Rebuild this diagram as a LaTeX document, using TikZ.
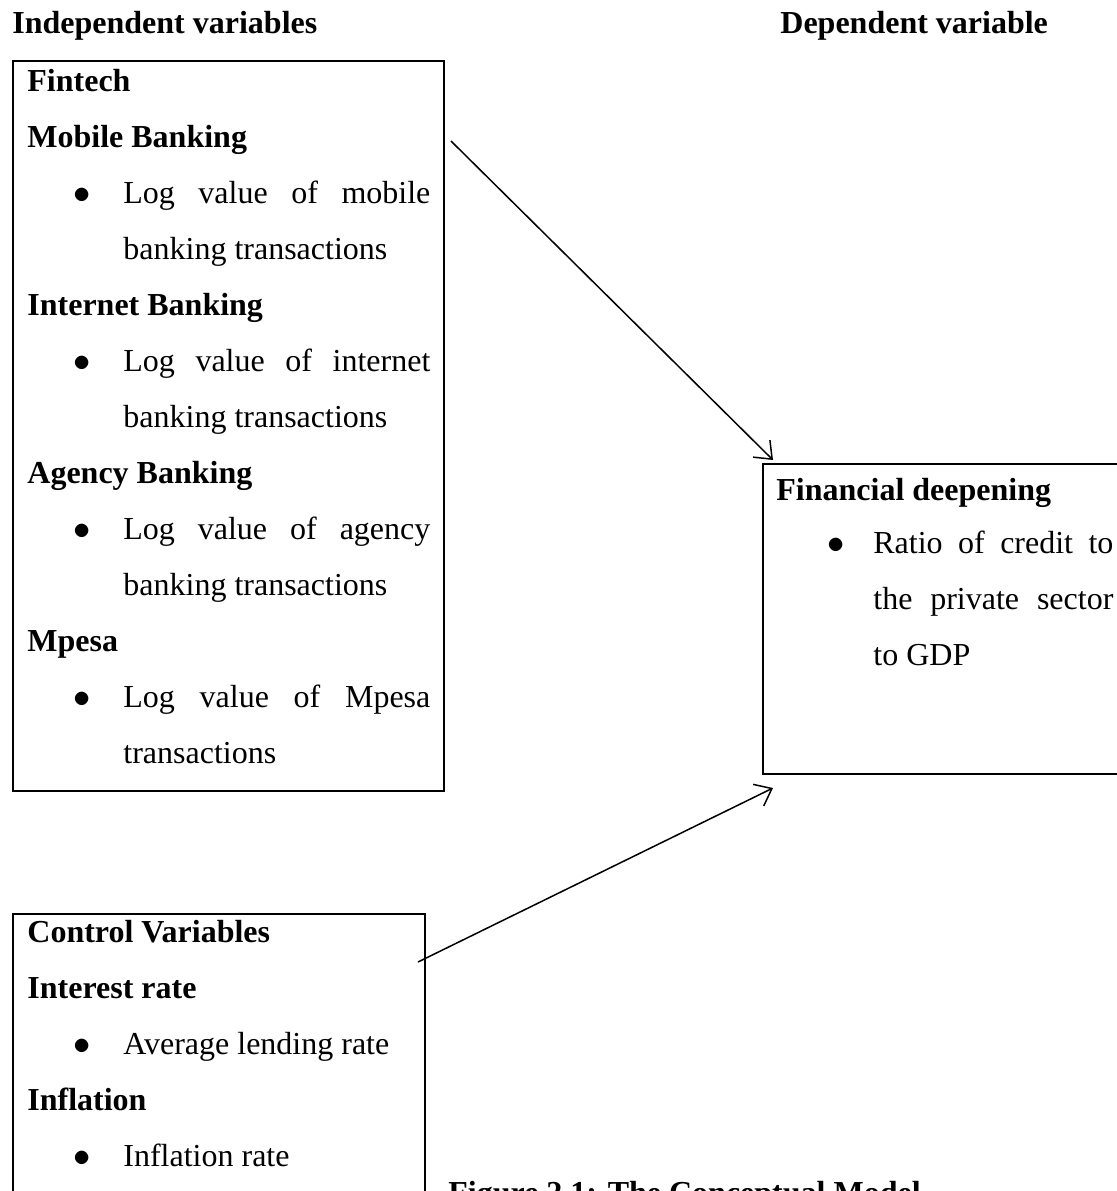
\documentclass[tikz,border=0pt]{standalone}
\usepackage{fontspec}
\setmainfont{Liberation Serif}
\usetikzlibrary{arrows.meta,calc}

\begin{document}
\begin{tikzpicture}[
x=0.5pt,
y=-0.5pt,
every node/.style={font=\fontsize{16}{28}\selectfont,inner sep=0pt,anchor=base west},
frame/.style={rectangle,draw,line width=1pt,anchor=north west},
head/.style={font=\fontsize{16}{28}\selectfont\bfseries},
dot/.style={font=\fontsize{17}{28}\selectfont,anchor=base},
arr/.style={-{Straight Barb[length=7.5pt,width=12pt]},line width=0.75pt}
]
\useasboundingbox (0,0) rectangle (1117,1191);
\clip (0,0) rectangle (1117,1191);

% column titles
\node[head] (indep) at (12,33) {Independent variables};
\node[head] (dep) at (780,33) {Dependent variable};

% fintech box
\node[frame,minimum width=215.5pt,minimum height=365pt] (fintech) at (12,60) {};
\node[head] (fin) at (27,91) {Fintech};
\node[head] (mob) at (27,147) {Mobile Banking};
\node[dot] (mobb) at (82,203) {$\bullet$};
\node (mob1) at (123,203) {\makebox[153.5pt][s]{Log value of mobile}};
\node (mob2) at (123,259) {banking transactions};
\node[head] (inet) at (27,315) {Internet Banking};
\node[dot] (inetb) at (82,371) {$\bullet$};
\node (inet1) at (123,371) {\makebox[153.5pt][s]{Log value of internet}};
\node (inet2) at (123,427) {banking transactions};
\node[head] (agen) at (27,483) {Agency Banking};
\node[dot] (agenb) at (82,539) {$\bullet$};
\node (agen1) at (123,539) {\makebox[153.5pt][s]{Log value of agency}};
\node (agen2) at (123,595) {banking transactions};
\node[head] (mpesa) at (27,651) {Mpesa};
\node[dot] (mpesab) at (82,707) {$\bullet$};
\node (mpesa1) at (123,707) {\makebox[153.5pt][s]{Log value of Mpesa}};
\node (mpesa2) at (123,763) {transactions};

% financial deepening box
\node[frame,minimum width=190pt,minimum height=155pt] (deepen) at (762,463) {};
\node[head] (fd) at (776,500) {Financial deepening};
\node[dot] (fdb) at (836,553) {$\bullet$};
\node (fd1) at (873,553) {\makebox[120pt][s]{Ratio of credit to}};
\node (fd2) at (873,609) {\makebox[120pt][s]{the private sector}};
\node (fd3) at (873,665) {to GDP};

% control variables box
\node[frame,minimum width=206pt,minimum height=155pt] (control) at (12,913) {};
\node[head] (cv) at (27,942) {Control Variables};
\node[head] (ir) at (27,998) {Interest rate};
\node[dot] (irb) at (82,1054) {$\bullet$};
\node (ir1) at (123,1054) {Average lending rate};
\node[head] (infl) at (27,1110) {Inflation};
\node[dot] (inflb) at (82,1166) {$\bullet$};
\node (infl1) at (123,1166) {Inflation rate};

\node[head] (caption) at (448,1203) {Figure 2.1: The Conceptual Model};

\draw[arr] ($(fintech.north east)+(6,81)$) -- ($(deepen.north west)+(11,-3)$);
\draw[arr] ($(control.north east)+(-8,49)$) -- ($(deepen.south west)+(11,13)$);
\end{tikzpicture}
\end{document}
